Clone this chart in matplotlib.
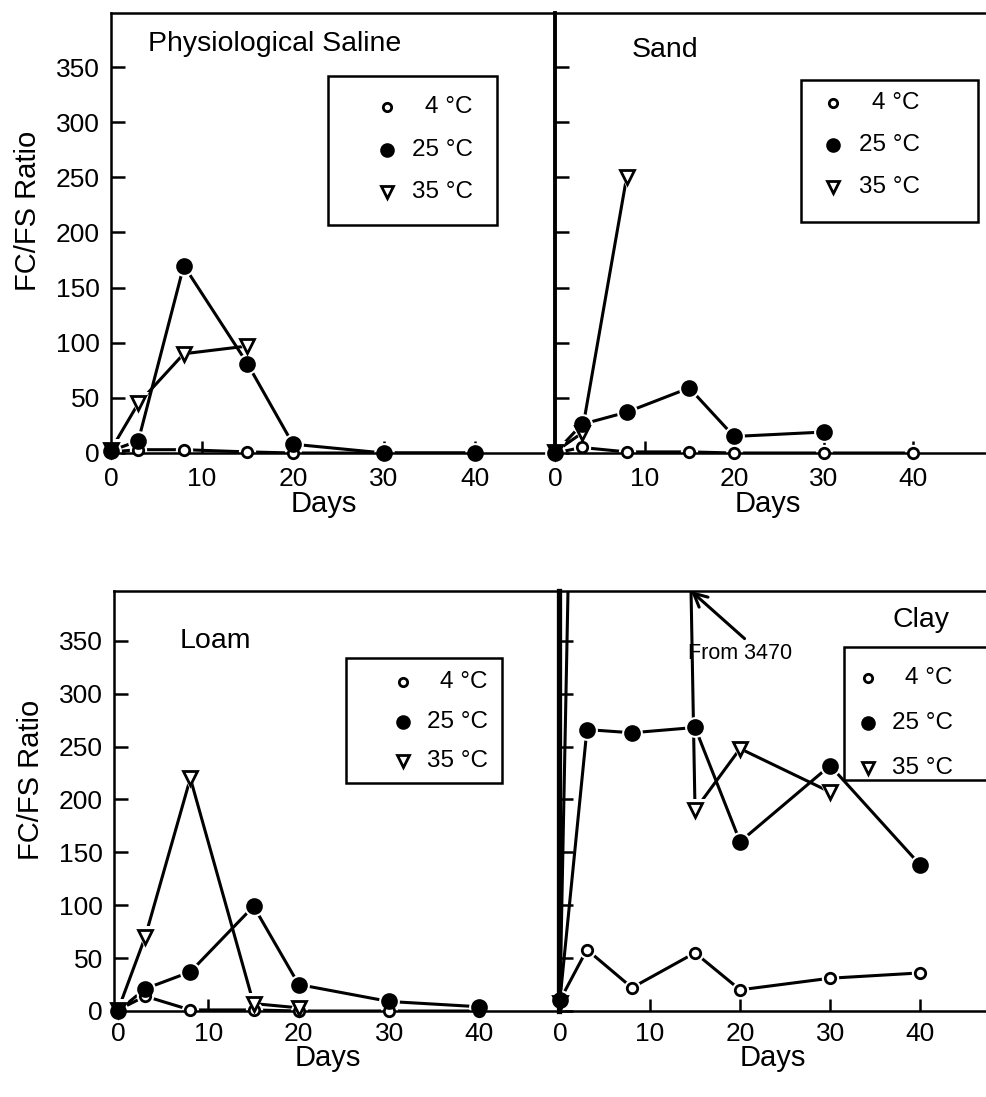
import numpy as np
import matplotlib
matplotlib.use('Agg')
import matplotlib.pyplot as plt
from matplotlib.patches import Rectangle

plt.rcParams['font.family'] = ['Liberation Sans', 'DejaVu Sans']

# sampling days shared by most series
days = [0, 3, 8, 15, 20, 30, 40]

# physiological saline
saline_4c = [1, 3, 3, 1, 0, 0, 0]
saline_25c = [2, 11, 170, 81, 8, 0, 0]
saline_35c_days = [0, 3, 8, 15]
saline_35c = [3, 45, 90, 97]

# sand
sand_4c = [0, 5, 1, 1, 0, 0, 0]
sand_25c_days = [0, 3, 8, 15, 20, 30]
sand_25c = [0, 26, 37, 59, 15, 19]
sand_35c_days = [0, 3, 8]
sand_35c = [1, 18, 250]

# loam
loam_4c = [1, 14, 1, 1, 0, 0, 0]
loam_25c = [0, 21, 37, 99, 25, 9, 4]
loam_35c_days = [0, 3, 8, 15, 20]
loam_35c = [1, 70, 220, 7, 3]

# clay (day 8 at 35 C is off the scale)
clay_4c = [10, 58, 22, 55, 20, 31, 36]
clay_25c = [10, 266, 263, 268, 160, 232, 138]
clay_35c_days = [0, 8, 15, 20, 30]
clay_35c = [8, 3470, 190, 248, 207]

temp_labels = ['4 \u00b0C', '25 \u00b0C', '35 \u00b0C']
x_ticks = [0, 10, 20, 30, 40]
y_ticks = [0, 50, 100, 150, 200, 250, 300, 350]

styles = [
    dict(marker='o', ms=7.5, mfc='white'),
    dict(marker='o', ms=10, mfc='black'),
    dict(marker='v', ms=10.5, mfc='white'),
]


def plot_series(ax, x, y, style, top):
    x = np.asarray(x, float)
    y = np.asarray(y, float)
    ax.plot(x, y, color='black', lw=2.2, zorder=2)
    inside = np.where(y <= top, y, np.nan)
    # white halo so the lines stop short of the symbols
    ax.plot(x, inside, ls='none', marker=style['marker'], ms=style['ms'] + 5,
            mfc='white', mec='white', mew=0, zorder=2.2, clip_on=False)
    ax.plot(x, inside, ls='none', marker=style['marker'], ms=style['ms'],
            mfc=style['mfc'], mec='black', mew=2.0, zorder=3, clip_on=False)


def draw_key(ax, box, mark_x, text_x, rows):
    x0, y0, x1, y1 = box
    ax.add_patch(Rectangle((x0, y0), x1 - x0, y1 - y0, transform=ax.transAxes,
                           fill=False, lw=1.8, ec='black', clip_on=False, zorder=4))
    for style, label, ry in zip(styles, temp_labels, rows):
        ax.plot([mark_x], [ry], transform=ax.transAxes, ls='none',
                marker=style['marker'], ms=style['ms'] - 1.5, mfc=style['mfc'],
                mec='black', mew=2.0, clip_on=False, zorder=5)
        ax.text(text_x, ry, label, transform=ax.transAxes, ha='right',
                va='center', fontsize=17.5)


def setup_axes(ax, xlim, top, left_labels, xpad, left_lw, xlab_y):
    ax.set_xlim(*xlim)
    ax.set_ylim(0, top)
    ax.set_xticks(x_ticks)
    ax.set_yticks(y_ticks)
    ax.tick_params(direction='in', length=10, width=1.8, labelsize=19)
    ax.tick_params(axis='x', pad=xpad, length=9)
    ax.tick_params(axis='y', pad=8, labelleft=left_labels)
    for s in ax.spines.values():
        s.set_linewidth(1.8)
    ax.spines['left'].set_linewidth(left_lw)
    ax.set_xlabel('Days', fontsize=21)
    ax.xaxis.set_label_coords(0.48, xlab_y)
    if left_labels:
        ax.set_ylabel('FC/FS Ratio', fontsize=21)
        ax.yaxis.set_label_coords(-0.155, 0.55)


fig = plt.figure(figsize=(9.86, 10.97), dpi=100)
W, H = 986.0, 1097.0
ax_tl = fig.add_axes([111 / W, 1 - 453 / H, 444 / W, 440 / H])
ax_tr = fig.add_axes([555 / W, 1 - 453 / H, 444 / W, 440 / H])
ax_bl = fig.add_axes([114 / W, 1 - 1011 / H, 445 / W, 420 / H])
ax_br = fig.add_axes([559 / W, 1 - 1011 / H, 445 / W, 420 / H])

setup_axes(ax_tl, (0, 48.8), 399, True, 10, 1.8, -0.083)
setup_axes(ax_tr, (0, 49.6), 399, False, 10, 2.8, -0.083)
setup_axes(ax_bl, (-0.45, 48.8), 397, True, 8, 1.8, -0.078)
setup_axes(ax_br, (-0.1, 49.3), 397, False, 8, 3.8, -0.078)

# Physiological saline
plot_series(ax_tl, days, saline_4c, styles[0], 399)
plot_series(ax_tl, saline_35c_days, saline_35c, styles[2], 399)
plot_series(ax_tl, days, saline_25c, styles[1], 399)
ax_tl.text(0.083, 0.93, 'Physiological Saline', transform=ax_tl.transAxes,
           fontsize=20.5, va='center')
draw_key(ax_tl, (0.489, 0.518, 0.869, 0.857), 0.622, 0.815, [0.786, 0.689, 0.593])

# Sand
plot_series(ax_tr, days, sand_4c, styles[0], 399)
plot_series(ax_tr, sand_35c_days, sand_35c, styles[2], 399)
plot_series(ax_tr, sand_25c_days, sand_25c, styles[1], 399)
ax_tr.text(0.173, 0.916, 'Sand', transform=ax_tr.transAxes, fontsize=20.5, va='center')
draw_key(ax_tr, (0.554, 0.525, 0.953, 0.848), 0.626, 0.822, [0.795, 0.700, 0.605])

# Loam
plot_series(ax_bl, days, loam_4c, styles[0], 397)
plot_series(ax_bl, loam_35c_days, loam_35c, styles[2], 397)
plot_series(ax_bl, days, loam_25c, styles[1], 397)
ax_bl.text(0.148, 0.88, 'Loam', transform=ax_bl.transAxes, fontsize=20.5, va='center')
draw_key(ax_bl, (0.521, 0.543, 0.872, 0.840), 0.649, 0.840, [0.783, 0.688, 0.595])

# Clay
plot_series(ax_br, days, clay_4c, styles[0], 397)
plot_series(ax_br, clay_35c_days, clay_35c, styles[2], 397)
plot_series(ax_br, days, clay_25c, styles[1], 397)
ax_br.text(0.75, 0.93, 'Clay', transform=ax_br.transAxes, fontsize=20.5, va='center')
draw_key(ax_br, (0.64, 0.55, 1.06, 0.867), 0.694, 0.885, [0.793, 0.686, 0.579])

# where the off-scale 35 C line comes back into the frame
i = int(np.argmax(clay_35c))
x_in = clay_35c_days[i] + (clay_35c[i] - 397) / (clay_35c[i] - clay_35c[i + 1]) * \
    (clay_35c_days[i + 1] - clay_35c_days[i])
ax_br.annotate('', xy=(x_in, 397), xytext=(20.5, 352),
               arrowprops=dict(arrowstyle='->', lw=2.2, color='black',
                               mutation_scale=24, shrinkA=0, shrinkB=0))
ax_br.text(0.29, 0.852, 'From 3470', transform=ax_br.transAxes, fontsize=15.5,
           va='center')

fig.savefig('out.png', dpi=100)
